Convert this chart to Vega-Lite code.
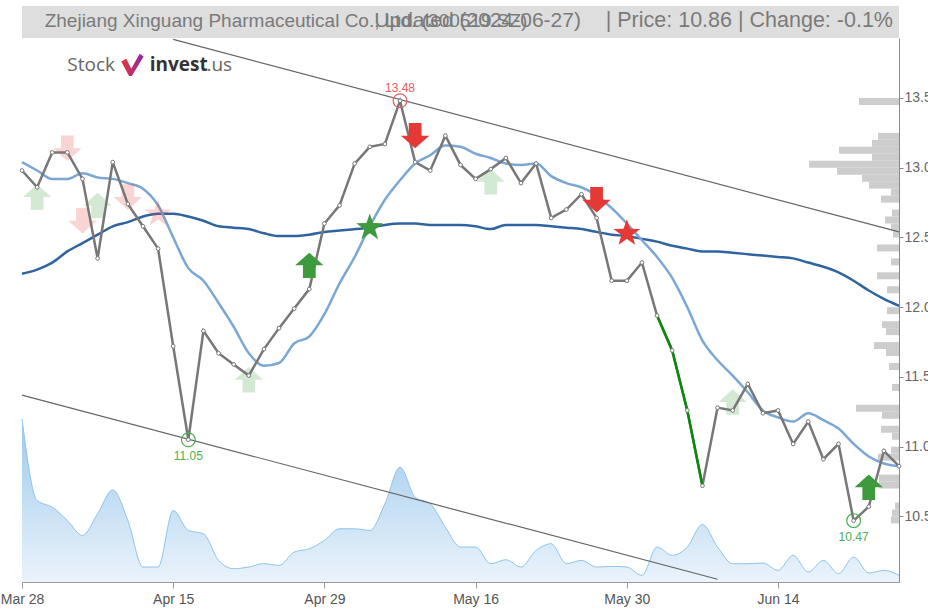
{
  "$schema": "https://vega.github.io/schema/vega-lite/v6.json",
  "width": 877,
  "height": 544,
  "autosize": {"type": "none"},
  "padding": {"left": 22, "top": 38, "right": 29, "bottom": 28},
  "background": "white",
  "config": {"view": {"stroke": null}, "font": "Liberation Sans"},
  "datasets": {
    "prices": [
      {"i":0,"date":"2024-03-28","price":12.98,"ma_short":13.04,"ma_long":12.24},
      {"i":1,"date":"2024-03-29","price":12.86,"ma_short":12.98,"ma_long":12.27},
      {"i":2,"date":"2024-04-01","price":13.11,"ma_short":12.92,"ma_long":12.32},
      {"i":3,"date":"2024-04-02","price":13.11,"ma_short":12.92,"ma_long":12.40},
      {"i":4,"date":"2024-04-03","price":12.92,"ma_short":12.96,"ma_long":12.46},
      {"i":5,"date":"2024-04-08","price":12.35,"ma_short":12.93,"ma_long":12.52},
      {"i":6,"date":"2024-04-09","price":13.04,"ma_short":12.92,"ma_long":12.58},
      {"i":7,"date":"2024-04-10","price":12.74,"ma_short":12.89,"ma_long":12.61},
      {"i":8,"date":"2024-04-11","price":12.58,"ma_short":12.85,"ma_long":12.65},
      {"i":9,"date":"2024-04-12","price":12.42,"ma_short":12.73,"ma_long":12.67},
      {"i":10,"date":"2024-04-15","price":11.72,"ma_short":12.50,"ma_long":12.67},
      {"i":11,"date":"2024-04-16","price":11.05,"ma_short":12.28,"ma_long":12.65},
      {"i":12,"date":"2024-04-17","price":11.83,"ma_short":12.19,"ma_long":12.62},
      {"i":13,"date":"2024-04-18","price":11.67,"ma_short":12.03,"ma_long":12.58},
      {"i":14,"date":"2024-04-19","price":11.59,"ma_short":11.86,"ma_long":12.57},
      {"i":15,"date":"2024-04-22","price":11.51,"ma_short":11.67,"ma_long":12.56},
      {"i":16,"date":"2024-04-23","price":11.70,"ma_short":11.58,"ma_long":12.53},
      {"i":17,"date":"2024-04-24","price":11.85,"ma_short":11.60,"ma_long":12.51},
      {"i":18,"date":"2024-04-25","price":11.99,"ma_short":11.74,"ma_long":12.51},
      {"i":19,"date":"2024-04-26","price":12.13,"ma_short":11.79,"ma_long":12.52},
      {"i":20,"date":"2024-04-29","price":12.60,"ma_short":11.95,"ma_long":12.54},
      {"i":21,"date":"2024-04-30","price":12.73,"ma_short":12.17,"ma_long":12.55},
      {"i":22,"date":"2024-05-06","price":13.03,"ma_short":12.36,"ma_long":12.56},
      {"i":23,"date":"2024-05-07","price":13.15,"ma_short":12.58,"ma_long":12.57},
      {"i":24,"date":"2024-05-08","price":13.17,"ma_short":12.77,"ma_long":12.59},
      {"i":25,"date":"2024-05-09","price":13.48,"ma_short":12.91,"ma_long":12.60},
      {"i":26,"date":"2024-05-10","price":13.04,"ma_short":13.03,"ma_long":12.60},
      {"i":27,"date":"2024-05-13","price":12.98,"ma_short":13.09,"ma_long":12.59},
      {"i":28,"date":"2024-05-14","price":13.23,"ma_short":13.16,"ma_long":12.59},
      {"i":29,"date":"2024-05-15","price":13.02,"ma_short":13.15,"ma_long":12.59},
      {"i":30,"date":"2024-05-16","price":12.92,"ma_short":13.10,"ma_long":12.58},
      {"i":31,"date":"2024-05-17","price":12.99,"ma_short":13.07,"ma_long":12.56},
      {"i":32,"date":"2024-05-20","price":13.07,"ma_short":13.03,"ma_long":12.59},
      {"i":33,"date":"2024-05-21","price":12.89,"ma_short":13.02,"ma_long":12.59},
      {"i":34,"date":"2024-05-22","price":13.03,"ma_short":13.03,"ma_long":12.59},
      {"i":35,"date":"2024-05-23","price":12.64,"ma_short":12.94,"ma_long":12.58},
      {"i":36,"date":"2024-05-24","price":12.70,"ma_short":12.89,"ma_long":12.57},
      {"i":37,"date":"2024-05-27","price":12.81,"ma_short":12.86,"ma_long":12.56},
      {"i":38,"date":"2024-05-28","price":12.64,"ma_short":12.80,"ma_long":12.54},
      {"i":39,"date":"2024-05-29","price":12.19,"ma_short":12.71,"ma_long":12.52},
      {"i":40,"date":"2024-05-30","price":12.19,"ma_short":12.60,"ma_long":12.51},
      {"i":41,"date":"2024-05-31","price":12.32,"ma_short":12.48,"ma_long":12.49},
      {"i":42,"date":"2024-06-03","price":11.94,"ma_short":12.36,"ma_long":12.47},
      {"i":43,"date":"2024-06-04","price":11.69,"ma_short":12.21,"ma_long":12.44},
      {"i":44,"date":"2024-06-05","price":11.26,"ma_short":12.00,"ma_long":12.42},
      {"i":45,"date":"2024-06-06","price":10.72,"ma_short":11.76,"ma_long":12.40},
      {"i":46,"date":"2024-06-07","price":11.28,"ma_short":11.62,"ma_long":12.40},
      {"i":47,"date":"2024-06-11","price":11.26,"ma_short":11.51,"ma_long":12.39},
      {"i":48,"date":"2024-06-12","price":11.45,"ma_short":11.39,"ma_long":12.38},
      {"i":49,"date":"2024-06-13","price":11.24,"ma_short":11.26,"ma_long":12.37},
      {"i":50,"date":"2024-06-14","price":11.26,"ma_short":11.21,"ma_long":12.36},
      {"i":51,"date":"2024-06-17","price":11.02,"ma_short":11.18,"ma_long":12.35},
      {"i":52,"date":"2024-06-18","price":11.18,"ma_short":11.24,"ma_long":12.32},
      {"i":53,"date":"2024-06-19","price":10.91,"ma_short":11.19,"ma_long":12.29},
      {"i":54,"date":"2024-06-20","price":11.02,"ma_short":11.13,"ma_long":12.25},
      {"i":55,"date":"2024-06-21","price":10.47,"ma_short":11.02,"ma_long":12.19},
      {"i":56,"date":"2024-06-24","price":10.57,"ma_short":10.93,"ma_long":12.12},
      {"i":57,"date":"2024-06-25","price":10.97,"ma_short":10.88,"ma_long":12.06},
      {"i":58,"date":"2024-06-26","price":10.86,"ma_short":10.86,"ma_long":12.01}
    ],
    "volume": [
      {"i":0,"vol":490},{"i":1,"vol":245},{"i":2,"vol":225},{"i":3,"vol":185},{"i":4,"vol":140},
      {"i":5,"vol":205},{"i":6,"vol":277},{"i":7,"vol":185},{"i":8,"vol":45},{"i":9,"vol":45},
      {"i":10,"vol":215},{"i":11,"vol":155},{"i":12,"vol":145},{"i":13,"vol":65},{"i":14,"vol":40},
      {"i":15,"vol":45},{"i":16,"vol":55},{"i":17,"vol":50},{"i":18,"vol":90},{"i":19,"vol":100},
      {"i":20,"vol":125},{"i":21,"vol":160},{"i":22,"vol":160},{"i":23,"vol":155},{"i":24,"vol":235},
      {"i":25,"vol":345},{"i":26,"vol":255},{"i":27,"vol":235},{"i":28,"vol":165},{"i":29,"vol":105},
      {"i":30,"vol":105},{"i":31,"vol":55},{"i":32,"vol":67},{"i":33,"vol":45},{"i":34,"vol":95},
      {"i":35,"vol":115},{"i":36,"vol":55},{"i":37,"vol":65},{"i":38,"vol":45},{"i":39,"vol":47},
      {"i":40,"vol":45},{"i":41,"vol":20},{"i":42,"vol":105},{"i":43,"vol":80},{"i":44,"vol":105},
      {"i":45,"vol":173},{"i":46,"vol":105},{"i":47,"vol":55},{"i":48,"vol":55},{"i":49,"vol":57},
      {"i":50,"vol":35},{"i":51,"vol":80},{"i":52,"vol":30},{"i":53,"vol":65},{"i":54,"vol":25},
      {"i":55,"vol":75},{"i":56,"vol":27},{"i":57,"vol":35},{"i":58,"vol":20}
    ],
    "profile": [
      {"lo":13.45,"hi":13.50,"len":40},
      {"lo":13.20,"hi":13.25,"len":21},
      {"lo":13.15,"hi":13.20,"len":27},
      {"lo":13.10,"hi":13.15,"len":60},
      {"lo":13.05,"hi":13.10,"len":27},
      {"lo":13.00,"hi":13.05,"len":90},
      {"lo":12.95,"hi":13.00,"len":62},
      {"lo":12.90,"hi":12.95,"len":37},
      {"lo":12.85,"hi":12.90,"len":30},
      {"lo":12.80,"hi":12.85,"len":8},
      {"lo":12.75,"hi":12.80,"len":18},
      {"lo":12.65,"hi":12.70,"len":7},
      {"lo":12.60,"hi":12.65,"len":14},
      {"lo":12.55,"hi":12.60,"len":8},
      {"lo":12.50,"hi":12.55,"len":6},
      {"lo":12.40,"hi":12.45,"len":22},
      {"lo":12.30,"hi":12.35,"len":8},
      {"lo":12.20,"hi":12.25,"len":22},
      {"lo":12.10,"hi":12.15,"len":12},
      {"lo":11.95,"hi":12.00,"len":12},
      {"lo":11.85,"hi":11.90,"len":17},
      {"lo":11.80,"hi":11.85,"len":13},
      {"lo":11.70,"hi":11.75,"len":25},
      {"lo":11.65,"hi":11.70,"len":13},
      {"lo":11.55,"hi":11.60,"len":10},
      {"lo":11.40,"hi":11.45,"len":7},
      {"lo":11.25,"hi":11.30,"len":43},
      {"lo":11.20,"hi":11.25,"len":17},
      {"lo":11.10,"hi":11.15,"len":18},
      {"lo":11.05,"hi":11.10,"len":7},
      {"lo":10.95,"hi":11.00,"len":8},
      {"lo":10.90,"hi":10.95,"len":21},
      {"lo":10.75,"hi":10.80,"len":20},
      {"lo":10.70,"hi":10.75,"len":20},
      {"lo":10.55,"hi":10.60,"len":4},
      {"lo":10.50,"hi":10.55,"len":7},
      {"lo":10.45,"hi":10.50,"len":8}
    ],
    "trend": [
      {"line":"upper","i":10,"v":13.92},
      {"line":"upper","i":58,"v":12.54},
      {"line":"lower","i":0,"v":11.37},
      {"line":"lower","i":46,"v":10.05}
    ],
    "signals": [
      {"i":1,"v":12.79,"marker":"up","signal":"buy","strength":"weak"},
      {"i":5,"v":12.73,"marker":"up","signal":"buy","strength":"weak"},
      {"i":15,"v":11.48,"marker":"up","signal":"buy","strength":"weak"},
      {"i":31,"v":12.90,"marker":"up","signal":"buy","strength":"weak"},
      {"i":47,"v":11.32,"marker":"up","signal":"buy","strength":"weak"},
      {"i":3,"v":13.14,"marker":"down","signal":"sell","strength":"weak"},
      {"i":4,"v":12.62,"marker":"down","signal":"sell","strength":"weak"},
      {"i":7,"v":12.79,"marker":"down","signal":"sell","strength":"weak"},
      {"i":9,"v":12.67,"marker":"star","signal":"sell","strength":"weak"},
      {"i":19,"v":12.30,"marker":"up","signal":"buy","strength":"strong"},
      {"i":23,"v":12.57,"marker":"star","signal":"buy","strength":"strong"},
      {"i":26,"v":13.23,"marker":"down","signal":"sell","strength":"strong"},
      {"i":38,"v":12.77,"marker":"down","signal":"sell","strength":"strong"},
      {"i":40,"v":12.53,"marker":"star","signal":"sell","strength":"strong"},
      {"i":56,"v":10.71,"marker":"up","signal":"buy","strength":"strong"}
    ],
    "extremes": [
      {"i":25,"v":13.48,"kind":"high","label":"13.48"},
      {"i":11,"v":11.05,"kind":"low","label":"11.05"},
      {"i":55,"v":10.47,"kind":"low","label":"10.47"}
    ]
  },
  "layer": [
    {
      "data": {"name": "volume"},
      "mark": {
        "type": "area",
        "interpolate": "monotone",
        "color": {"gradient": "linear", "x1": 0, "y1": 0, "x2": 0, "y2": 1,
          "stops": [{"offset": 0, "color": "#72b2e4"}, {"offset": 1, "color": "#e2eef9"}]},
        "line": {"color": "#8ec4ec", "strokeWidth": 1}
      },
      "encoding": {
        "x": {"field": "i", "type": "quantitative", "scale": {"domain": [0, 58], "nice": false, "zero": false}, "axis": null},
        "y": {"field": "vol", "type": "quantitative", "scale": {"domain": [0, 1635], "nice": false}, "axis": null}
      }
    },
    {
      "data": {"name": "profile"},
      "mark": {"type": "rect", "color": "#cdcdcd"},
      "encoding": {
        "x": {"field": "len", "type": "quantitative", "scale": {"domain": [0, 877], "reverse": true, "nice": false}, "axis": null},
        "x2": {"datum": 0},
        "y": {"field": "lo", "type": "quantitative", "scale": {"domain": [10.03, 13.93], "nice": false, "zero": false}, "axis": null},
        "y2": {"field": "hi"}
      }
    },
    {
      "encoding": {
        "x": {"type": "quantitative", "scale": {"domain": [0, 58], "nice": false, "zero": false},
          "axis": {"values": [0, 10, 20, 30, 40, 50], "title": null, "grid": false,
            "labelExpr": "datum.value==0?'Mar 28':datum.value==10?'Apr 15':datum.value==20?'Apr 29':datum.value==30?'May 16':datum.value==40?'May 30':'Jun 14'",
            "labelFlush": false, "labelFontSize": 14, "labelColor": "#555", "domainColor": "#999", "tickColor": "#999", "tickSize": 6, "labelPadding": 4}},
        "y": {"type": "quantitative", "scale": {"domain": [10.03, 13.93], "nice": false, "zero": false},
          "axis": {"orient": "right", "values": [10.5, 11, 11.5, 12, 12.5, 13, 13.5], "format": ".1f", "title": null, "grid": false,
            "labelFontSize": 14, "labelColor": "#666", "domainColor": "#888", "tickColor": "#888", "tickSize": 4, "labelPadding": 1, "labelBound": false}}
      },
      "layer": [
        {
          "data": {"values": [{}]},
          "mark": {"type": "rect", "color": "#dedede"},
          "encoding": {"x": {"datum": 0}, "x2": {"datum": 58}, "y": {"datum": 13.93}, "y2": {"datum": 14.16}}
        },
        {
          "data": {"values": [{}]},
          "mark": {"type": "text", "fontSize": 19, "color": "#7a7a7a", "align": "left", "baseline": "middle"},
          "encoding": {"x": {"datum": 1.5}, "y": {"datum": 14.053}, "text": {"value": "Zhejiang Xinguang Pharmaceutical Co., Ltd. (300519.SZ)"}}
        },
        {
          "data": {"values": [{}]},
          "mark": {"type": "text", "fontSize": 21, "color": "#7a7a7a", "align": "left", "baseline": "middle"},
          "encoding": {"x": {"datum": 23.3}, "y": {"datum": 14.053}, "text": {"value": "Updated (2024-06-27)"}}
        },
        {
          "data": {"values": [{}]},
          "mark": {"type": "text", "fontSize": 21.5, "color": "#7a7a7a", "align": "right", "baseline": "middle"},
          "encoding": {"x": {"datum": 57.6}, "y": {"datum": 14.053}, "text": {"value": "| Price: 10.86 | Change: -0.1%"}}
        },
        {
          "data": {"values": [{}]},
          "mark": {"type": "text", "fontSize": 19, "color": "#666", "align": "left", "baseline": "middle", "font": "Open Sans"},
          "encoding": {"x": {"datum": 3.0}, "y": {"datum": 13.737}, "text": {"value": "Stock"}}
        },
        {
          "data": {"values": [{}]},
          "mark": {"type": "point", "filled": true, "size": 500, "opacity": 1,
            "shape": "M-1,-0.3 L-0.55,-0.55 L-0.1,0.35 L0.65,-1 L1,-0.75 L-0.05,1 L-0.3,1 Z",
            "color": {"gradient": "linear", "x1": 0, "y1": 0, "x2": 1, "y2": 0, "stops": [{"offset": 0, "color": "#e53935"}, {"offset": 1, "color": "#8e24aa"}]}},
          "encoding": {"x": {"datum": 7.3}, "y": {"datum": 13.737}}
        },
        {
          "data": {"values": [{}]},
          "mark": {"type": "text", "fontSize": 19, "color": "#333", "fontWeight": "bold", "align": "left", "baseline": "middle", "font": "Open Sans"},
          "encoding": {"x": {"datum": 8.45}, "y": {"datum": 13.737}, "text": {"value": "invest"}}
        },
        {
          "data": {"values": [{}]},
          "mark": {"type": "text", "fontSize": 19, "color": "#666", "align": "left", "baseline": "middle", "font": "Open Sans"},
          "encoding": {"x": {"datum": 12.2}, "y": {"datum": 13.737}, "text": {"value": ".us"}}
        },
        {
          "data": {"name": "trend"},
          "mark": {"type": "line", "color": "#666", "strokeWidth": 1.2},
          "encoding": {"x": {"field": "i"}, "y": {"field": "v"}, "detail": {"field": "line"}}
        },
        {
          "data": {"name": "prices"},
          "mark": {"type": "line", "color": "#2f64a0", "strokeWidth": 2.5, "interpolate": "monotone"},
          "encoding": {"x": {"field": "i"}, "y": {"field": "ma_long"}}
        },
        {
          "data": {"name": "prices"},
          "mark": {"type": "line", "color": "#7aa7d3", "strokeWidth": 2.5, "interpolate": "monotone"},
          "encoding": {"x": {"field": "i"}, "y": {"field": "ma_short"}}
        },
        {
          "data": {"name": "signals"},
          "transform": [{"filter": "datum.strength == 'weak'"}],
          "mark": {"type": "point", "filled": true, "size": 800, "opacity": 0.22, "strokeWidth": 0},
          "encoding": {
            "x": {"field": "i"}, "y": {"field": "v"},
            "shape": {"field": "marker", "type": "nominal", "legend": null,
              "scale": {"domain": ["up", "down", "star"], "range": [
                "M0,-0.9 L1,0 L0.45,0 L0.45,0.9 L-0.45,0.9 L-0.45,0 L-1,0 Z",
                "M0,0.9 L1,0 L0.45,0 L0.45,-0.9 L-0.45,-0.9 L-0.45,0 L-1,0 Z",
                "M0,-1 L0.235,-0.324 L0.951,-0.309 L0.38,0.124 L0.588,0.809 L0,0.4 L-0.588,0.809 L-0.38,0.124 L-0.951,-0.309 L-0.235,-0.324 Z"]}},
            "color": {"field": "signal", "type": "nominal", "legend": null, "scale": {"domain": ["buy", "sell"], "range": ["#3d9b3d", "#e53935"]}}
          }
        },
        {
          "data": {"name": "prices"},
          "mark": {"type": "line", "color": "#777", "strokeWidth": 2.5},
          "encoding": {"x": {"field": "i"}, "y": {"field": "price"}}
        },
        {
          "data": {"name": "prices"},
          "transform": [{"filter": "datum.i >= 42 && datum.i <= 45"}],
          "mark": {"type": "line", "color": "#0a8a0a", "strokeWidth": 2.5},
          "encoding": {"x": {"field": "i"}, "y": {"field": "price"}}
        },
        {
          "data": {"name": "prices"},
          "mark": {"type": "point", "filled": true, "fill": "white", "stroke": "#777", "strokeWidth": 1, "size": 14, "opacity": 1},
          "encoding": {"x": {"field": "i"}, "y": {"field": "price"}}
        },
        {
          "data": {"name": "signals"},
          "transform": [{"filter": "datum.strength == 'strong'"}],
          "mark": {"type": "point", "filled": true, "size": 800, "opacity": 1, "strokeWidth": 0},
          "encoding": {
            "x": {"field": "i"}, "y": {"field": "v"},
            "shape": {"field": "marker", "type": "nominal", "legend": null,
              "scale": {"domain": ["up", "down", "star"], "range": [
                "M0,-0.9 L1,0 L0.45,0 L0.45,0.9 L-0.45,0.9 L-0.45,0 L-1,0 Z",
                "M0,0.9 L1,0 L0.45,0 L0.45,-0.9 L-0.45,-0.9 L-0.45,0 L-1,0 Z",
                "M0,-1 L0.235,-0.324 L0.951,-0.309 L0.38,0.124 L0.588,0.809 L0,0.4 L-0.588,0.809 L-0.38,0.124 L-0.951,-0.309 L-0.235,-0.324 Z"]}},
            "color": {"field": "signal", "type": "nominal", "legend": null, "scale": {"domain": ["buy", "sell"], "range": ["#3d9b3d", "#e53935"]}}
          }
        },
        {
          "data": {"name": "extremes"},
          "transform": [{"filter": "datum.kind == 'high'"}],
          "mark": {"type": "point", "filled": false, "size": 190, "strokeWidth": 1.2, "opacity": 1, "color": "#e85c5c"},
          "encoding": {"x": {"field": "i"}, "y": {"field": "v"}}
        },
        {
          "data": {"name": "extremes"},
          "transform": [{"filter": "datum.kind == 'low'"}],
          "mark": {"type": "point", "filled": false, "size": 190, "strokeWidth": 1.2, "opacity": 1, "color": "#4caf50"},
          "encoding": {"x": {"field": "i"}, "y": {"field": "v"}}
        },
        {
          "data": {"name": "extremes"},
          "transform": [{"filter": "datum.kind == 'high'"}],
          "mark": {"type": "text", "fontSize": 12, "dy": -13, "color": "#e85c5c"},
          "encoding": {"x": {"field": "i"}, "y": {"field": "v"}, "text": {"field": "label"}}
        },
        {
          "data": {"name": "extremes"},
          "transform": [{"filter": "datum.kind == 'low'"}],
          "mark": {"type": "text", "fontSize": 12, "dy": 16, "color": "#4caf50"},
          "encoding": {"x": {"field": "i"}, "y": {"field": "v"}, "text": {"field": "label"}}
        }
      ]
    }
  ],
  "resolve": {"scale": {"x": "independent", "y": "independent"}}
}
